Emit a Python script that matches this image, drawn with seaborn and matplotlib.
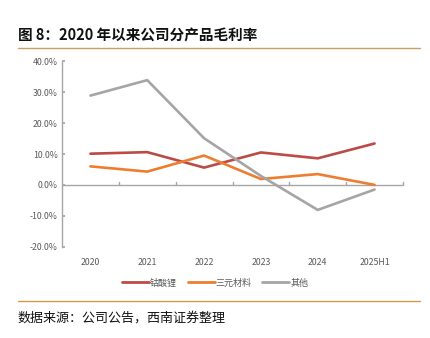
import matplotlib
matplotlib.use("Agg")
import matplotlib.pyplot as plt
import seaborn as sns
import pandas as pd

categories = ["2020", "2021", "2022", "2023", "2024", "2025H1"]
licoo2 = [10.1, 10.6, 5.6, 10.5, 8.6, 13.4]
ternary = [6.0, 4.3, 9.5, 1.9, 3.5, 0.0]
other = [28.9, 33.9, 15.1, 2.9, -8.1, -1.5]
series_names = ["钴酸锂", "三元材料", "其他"]
colors = ["#BC4B48", "#ED7D31", "#A5A5A5"]
yticks = [-20, -10, 0, 10, 20, 30, 40]

sns.set_theme(style="white")
plt.rcParams["font.family"] = ["Noto Sans CJK SC", "DejaVu Sans"]

rows = []
for name, vals in zip(series_names, [licoo2, ternary, other]):
    for c, v in zip(categories, vals):
        rows.append({"year": c, "value": v, "series": name})
df = pd.DataFrame(rows)

fig = plt.figure(figsize=(4.30, 3.38), dpi=100)
ax = fig.add_axes([62/430, 1-246.7/338, (403-62)/430, (246.7-61.3)/338])

sns.lineplot(data=df, x="year", y="value", hue="series", hue_order=series_names,
             palette=colors, linewidth=1.9, sort=False, ax=ax, legend=True)

ax.set_xlim(-0.5, len(categories) - 0.5)
ax.set_ylim(-20, 40)
ax.set_yticks(yticks)
ax.set_yticklabels([f"{t:.1f}%" for t in yticks])
ax.set_xlabel("")
ax.set_ylabel("")
for s in ["top", "right", "bottom"]:
    ax.spines[s].set_visible(False)
ax.spines["left"].set_color("#A6A6A6")
ax.spines["left"].set_linewidth(1.0)
ax.tick_params(axis="y", direction="in", length=2, color="#A6A6A6", left=True,
               labelsize=6.3, labelcolor="#595959", pad=3)
ax.tick_params(axis="x", length=0, labelsize=6.3, labelcolor="#595959", pad=8)
ax.grid(False)

# zero line with upward tick marks at category boundaries
ax.axhline(0, color="#A6A6A6", linewidth=1.0, zorder=1)
for b in range(1, len(categories) + 1):
    ax.plot([b - 0.5, b - 0.5], [0, 1.0], color="#A6A6A6", linewidth=1.0,
            zorder=1, clip_on=False)

leg = ax.legend(loc="center", bbox_to_anchor=(0.5, 1 - 283/338), bbox_transform=fig.transFigure,
                ncol=3, frameon=False, fontsize=6.5, handlelength=3.0, handletextpad=0.1,
                columnspacing=1.2, labelcolor="#595959")
for line in leg.get_lines():
    line.set_linewidth(2.0)

fig.text(18/430, 1-35/338, "图 8：2020 年以来公司分产品毛利率", fontsize=10.5,
         fontweight="bold", va="center", ha="left", color="#111111")
fig.add_artist(plt.Line2D([18/430, 420/430], [1-47.5/338, 1-47.5/338],
                          color="#C9A063", linewidth=1.0, transform=fig.transFigure))
fig.add_artist(plt.Line2D([18/430, 420/430], [1-300.7/338, 1-300.7/338],
                          color="#D49B45", linewidth=1.0, transform=fig.transFigure))
fig.text(18/430, 1-318/338, "数据来源：公司公告，西南证券整理", fontsize=9.4,
         fontstyle="italic", va="center", ha="left", color="#111111")

fig.savefig("out.png", dpi=100)
